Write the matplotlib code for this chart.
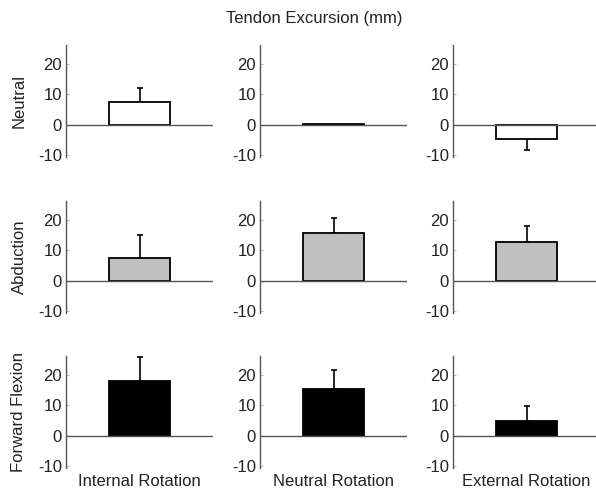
import matplotlib
matplotlib.use("Agg")
import matplotlib.pyplot as plt

plt.rcParams['font.family'] = ['Liberation Sans', 'DejaVu Sans']

positions = ["Neutral", "Abduction", "Forward Flexion"]
rotations = ["Internal Rotation", "Neutral Rotation", "External Rotation"]
means = [
    [7.4, 0.3, -4.8],
    [7.5, 15.6, 12.8],
    [17.9, 15.2, 4.8],
]
errors = [
    [4.8, 0.0, 3.4],
    [7.6, 5.1, 5.1],
    [8.1, 6.5, 4.9],
]
row_colors = ["white", "#c0c0c0", "black"]
yticks = [-10, 0, 10, 20]

W, H = 596, 494
fig = plt.figure(figsize=(W / 100, H / 100), dpi=100)

col_left = [66, 260, 453]
col_width = 147
row_top = [45, 201, 356]
row_height = 112

for r in range(3):
    for c in range(3):
        x0 = col_left[c] / W
        y0 = 1 - (row_top[r] + row_height) / H
        ax = fig.add_axes([x0, y0, col_width / W, row_height / H])
        m = means[r][c]
        e = errors[r][c]
        ax.bar([0], [m], width=0.41, color=row_colors[r], edgecolor="black",
               linewidth=1.3, zorder=3)
        if e > 0:
            if m >= 0:
                yerr = [[0], [e]]
            else:
                yerr = [[e], [0]]
            ax.errorbar([0], [m], yerr=yerr, fmt="none", ecolor="black",
                        elinewidth=1.2, capsize=2.5, capthick=1.2, zorder=2)
        ax.axhline(0, color="#555555", linewidth=1.0, zorder=4)
        ax.set_xlim(-0.5, 0.5)
        ax.set_ylim(-10.6, 26.2)
        ax.set_yticks(yticks)
        ax.set_yticklabels([str(t) for t in yticks], fontsize=12)
        ax.set_xticks([])
        for s in ["top", "right", "bottom"]:
            ax.spines[s].set_visible(False)
        ax.spines["left"].set_color("#555555")
        ax.spines["left"].set_linewidth(1.0)
        ax.tick_params(axis="y", direction="in", length=2, color="#bbbbbb",
                       pad=3, labelcolor="#222222")
        ax.set_facecolor("none")

for r in range(3):
    yc = 1 - (row_top[r] + row_height / 2) / H
    fig.text(19 / W, yc, positions[r], rotation=90, ha="center", va="center",
             fontsize=12, color="#222222")

for c in range(3):
    xc = (col_left[c] + col_width / 2) / W
    fig.text(xc, 1 - 481 / H, rotations[c], ha="center", va="center",
             fontsize=12, color="#222222")

fig.text(314 / W, 1 - 19 / H, "Tendon Excursion (mm)", ha="center", va="center",
         fontsize=12, color="#222222")

fig.savefig("out.png", dpi=100)
